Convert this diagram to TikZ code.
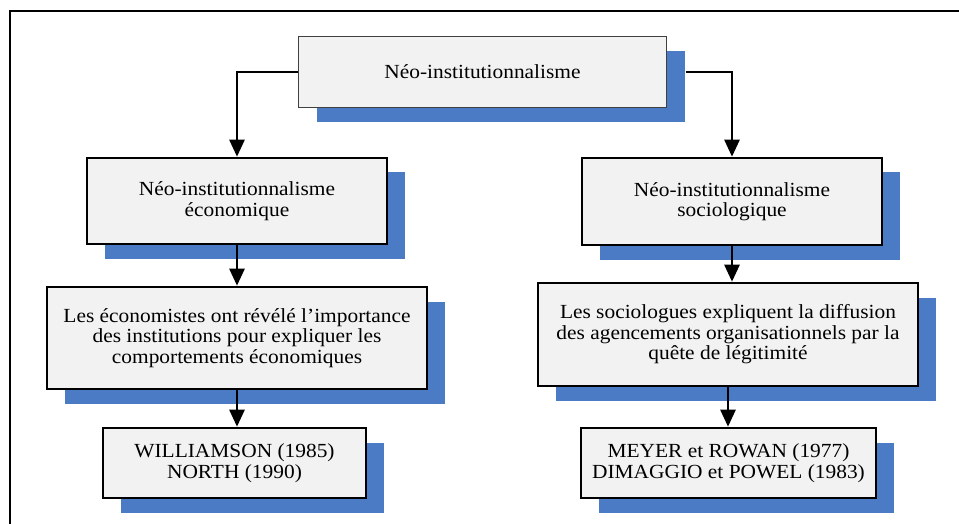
\documentclass[tikz,border=0pt]{standalone}
\usepackage{fontspec}
\setmainfont{Liberation Serif}[FakeStretch=1.07]
\usetikzlibrary{arrows.meta,shadows}
\definecolor{shadowblue}{HTML}{4A7BC4}
\definecolor{boxfill}{HTML}{F2F2F2}
\begin{document}
\begin{tikzpicture}[x=1pt,y=-1pt,
  boxbase/.style={fill=boxfill, align=center, font=\fontsize{20}{20.5}\selectfont, inner sep=0pt,
    drop shadow={shadow xshift=18pt, shadow yshift=-14.5pt, fill=shadowblue, opacity=1}},
  mainbox/.style={boxbase, draw=black, line width=2.6pt},
  topbox/.style={boxbase, draw=black!75, line width=1pt},
  arr/.style={line width=2.6pt, -{Triangle[length=17pt,width=15pt]}}]
\useasboundingbox (0,0) rectangle (959,524);
\draw[line width=2pt] (10,524) -- (10,11) -- (959,11);

\node[topbox, minimum width=368pt, minimum height=71pt] (top) at (482.5,72) {Néo-institutionnalisme};
\node[mainbox, minimum width=300pt, minimum height=86pt] (eco) at (237,201) {Néo-institutionnalisme\\économique};
\node[mainbox, minimum width=300pt, minimum height=87pt] (soc) at (732,201.5) {Néo-institutionnalisme\\sociologique};
\node[mainbox, minimum width=380pt, minimum height=102pt] (ecot) at (237,338) {Les économistes ont révélé l’importance\\des institutions pour expliquer les\\comportements économiques};
\node[mainbox, minimum width=380pt, minimum height=103pt] (soct) at (728,334.5) {Les sociologues expliquent la diffusion\\des agencements organisationnels par la\\quête de légitimité};
\node[mainbox, minimum width=263pt, minimum height=70pt] (ecoa) at (234.5,463) {WILLIAMSON (1985)\\NORTH (1990)};
\node[mainbox, minimum width=295pt, minimum height=70pt] (soca) at (728.5,463) {MEYER et ROWAN (1977)\\DIMAGGIO et POWEL (1983)};

\draw[arr] (top.west) -| (eco.north);
\draw[arr] ([xshift=18.5pt]top.east) -| (soc.north);
\draw[arr] (eco.south) -- (eco.south |- ecot.north);
\draw[arr] (soc.south) -- (soc.south |- soct.north);
\draw[arr] (ecot.south) -- (ecot.south |- ecoa.north);
\draw[arr] (soct.south) -- (soct.south |- soca.north);
\end{tikzpicture}
\end{document}
